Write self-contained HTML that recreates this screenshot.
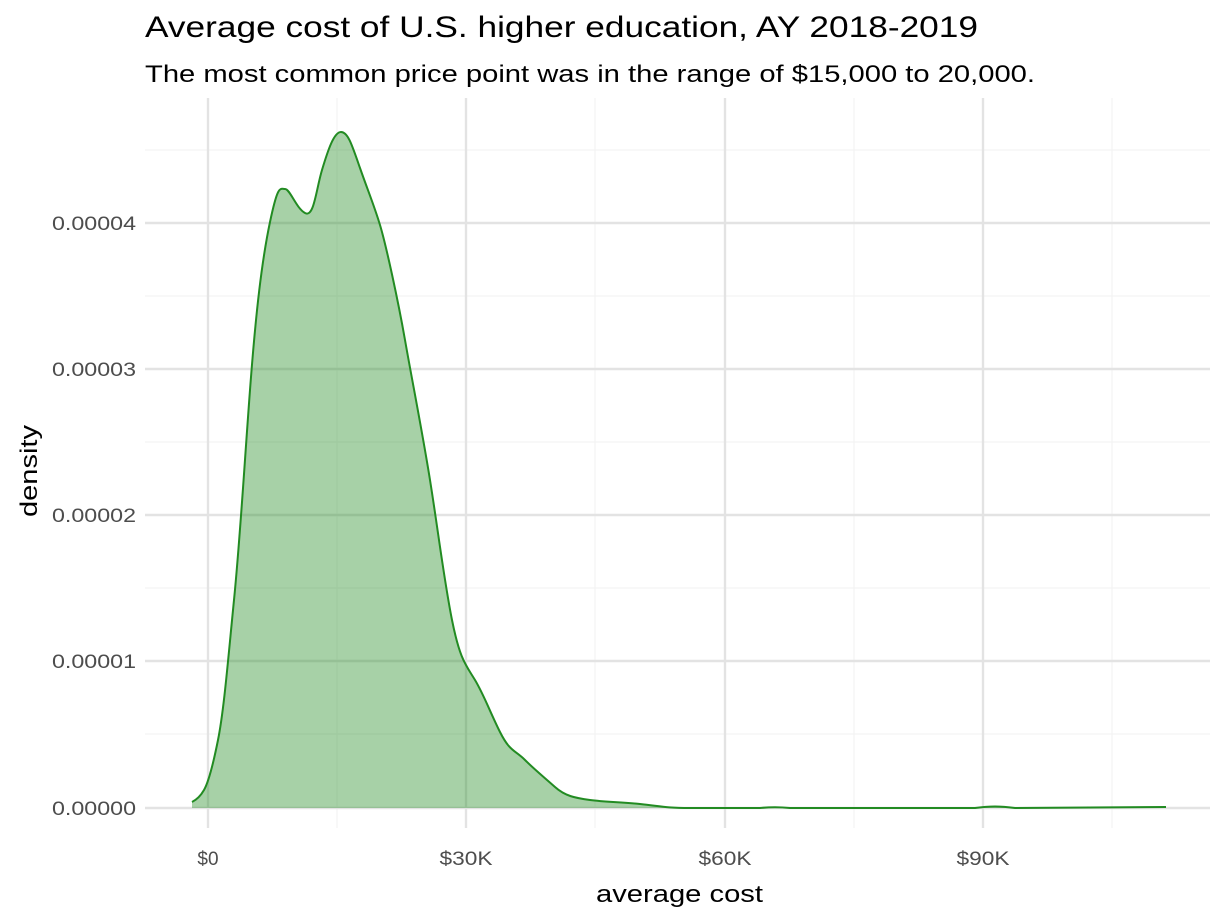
<!DOCTYPE html>
<html><head><meta charset="utf-8"><style>
html,body{margin:0;padding:0;background:#fff;}
svg{display:block;font-family:"Liberation Sans",Arial,sans-serif;}
</style></head><body>
<svg width="1228" height="921" viewBox="0 0 1228 921" xmlns="http://www.w3.org/2000/svg">
<rect width="1228" height="921" fill="#fff"/>
<g stroke="#f3f3f3" stroke-width="1.2">
<line x1="337" y1="98" x2="337" y2="828"/><line x1="595" y1="98" x2="595" y2="828"/>
<line x1="854" y1="98" x2="854" y2="828"/><line x1="1112" y1="98" x2="1112" y2="828"/>
<line x1="145" y1="734" x2="1210" y2="734"/><line x1="145" y1="588" x2="1210" y2="588"/>
<line x1="145" y1="442" x2="1210" y2="442"/><line x1="145" y1="296" x2="1210" y2="296"/>
<line x1="145" y1="150" x2="1210" y2="150"/>
</g>
<g stroke="#e3e3e3" stroke-width="2.4">
<line x1="208" y1="98" x2="208" y2="828"/><line x1="466" y1="98" x2="466" y2="828"/>
<line x1="725" y1="98" x2="725" y2="828"/><line x1="983" y1="98" x2="983" y2="828"/>
<line x1="145" y1="808" x2="1210" y2="808"/><line x1="145" y1="661" x2="1210" y2="661"/>
<line x1="145" y1="515" x2="1210" y2="515"/><line x1="145" y1="369" x2="1210" y2="369"/>
<line x1="145" y1="223" x2="1210" y2="223"/>
</g>
<path d="M192,802 C196,800 200,797 204,790 S212,770 218,740 S228,660 234,600 S244,470 250,390 S262,260 270,222 S280,189 285,189 S296,208 305,213 S316,190 322,170 S334,132 341,132 S352,145 360,168 S374,205 380,225 S398,300 405,340 S422,430 430,480 S444,580 452,620 S466,665 475,680 S490,712 500,732 S515,750 525,760 S545,778 555,787 S575,798 590,800 S620,802 640,804 S665,808 690,808 L760,808 C770,807 780,807 790,808 L975,808 C990,806 1000,806 1015,808 L1166,807 L1166,808 L192,808 Z" fill="rgba(34,139,34,0.4)" stroke="none"/>
<path d="M192,802 C196,800 200,797 204,790 S212,770 218,740 S228,660 234,600 S244,470 250,390 S262,260 270,222 S280,189 285,189 S296,208 305,213 S316,190 322,170 S334,132 341,132 S352,145 360,168 S374,205 380,225 S398,300 405,340 S422,430 430,480 S444,580 452,620 S466,665 475,680 S490,712 500,732 S515,750 525,760 S545,778 555,787 S575,798 590,800 S620,802 640,804 S665,808 690,808 L760,808 C770,807 780,807 790,808 L975,808 C990,806 1000,806 1015,808 L1166,807" fill="none" stroke="#228B22" stroke-width="2"/>
<g fill="#4d4d4d" font-size="19" text-anchor="end">
<text x="136" y="815" textLength="84" lengthAdjust="spacingAndGlyphs">0.00000</text>
<text x="136" y="668" textLength="84" lengthAdjust="spacingAndGlyphs">0.00001</text>
<text x="136" y="522" textLength="84" lengthAdjust="spacingAndGlyphs">0.00002</text>
<text x="136" y="376" textLength="84" lengthAdjust="spacingAndGlyphs">0.00003</text>
<text x="136" y="230" textLength="84" lengthAdjust="spacingAndGlyphs">0.00004</text>
</g>
<g fill="#4d4d4d" font-size="19" text-anchor="middle">
<text x="208" y="865">$0</text><text x="466" y="865" textLength="53" lengthAdjust="spacingAndGlyphs">$30K</text>
<text x="725" y="865" textLength="53" lengthAdjust="spacingAndGlyphs">$60K</text><text x="983" y="865" textLength="53" lengthAdjust="spacingAndGlyphs">$90K</text>
</g>
<text x="596" y="902" font-size="24" fill="#000" textLength="167" lengthAdjust="spacingAndGlyphs">average cost</text>
<text transform="translate(37,517) rotate(-90)" font-size="24" fill="#000" textLength="92" lengthAdjust="spacingAndGlyphs">density</text>
<text x="145" y="37" font-size="30" fill="#000" textLength="833" lengthAdjust="spacingAndGlyphs">Average cost of U.S. higher education, AY 2018-2019</text>
<text x="145" y="82" font-size="24" fill="#000" textLength="890" lengthAdjust="spacingAndGlyphs">The most common price point was in the range of $15,000 to 20,000.</text>
</svg>
</body></html>
